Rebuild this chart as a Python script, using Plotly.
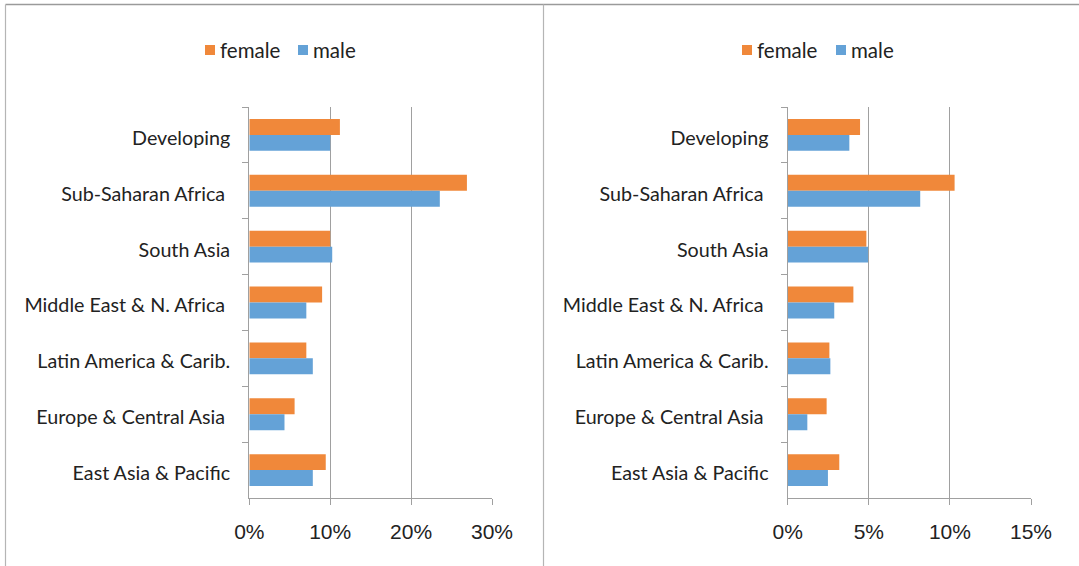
import plotly.graph_objects as go

regions = ["Developing", "Sub-Saharan Africa ", "South Asia", "Middle East & N. Africa ",
           "Latin America & Carib.", "Europe & Central Asia ", "East Asia & Pacific"]

left_female = [11.2, 26.9, 10.0, 9.0, 7.05, 5.6, 9.45]
left_male = [10.0, 23.55, 10.25, 7.05, 7.85, 4.35, 7.85]

right_female = [4.46, 10.29, 4.85, 4.05, 2.57, 2.40, 3.18]
right_male = [3.80, 8.17, 4.95, 2.87, 2.63, 1.21, 2.48]

left_ticks = [0, 10, 20, 30]
left_ticktext = ["0%", "10%", "20%", "30%"]
right_ticks = [0, 5, 10, 15]
right_ticktext = ["0%", "5%", "10%", "15%"]

series_names = ["female", "male"]

ORANGE = "#F0883A"
BLUE = "#64A2D7"
GRID = "#A0A0A0"
TXT = "#222222"
LABEL_FONT = "Lato, Carlito, Calibri, sans-serif"
W, H = 1079, 566


def px(x):
    return x / W


def py(y):
    return 1 - y / H


fig = go.Figure()

panels = [
    dict(xa="x", ya="y", fem=left_female, mal=left_male),
    dict(xa="x2", ya="y2", fem=right_female, mal=right_male),
]

for p in panels:
    fig.add_trace(go.Bar(y=regions, x=p["fem"], orientation="h", name=series_names[0],
                         marker=dict(color=ORANGE, line=dict(width=0)),
                         xaxis=p["xa"], yaxis=p["ya"], showlegend=False))
    fig.add_trace(go.Bar(y=regions, x=p["mal"], orientation="h", name=series_names[1],
                         marker=dict(color=BLUE, line=dict(width=0)),
                         xaxis=p["xa"], yaxis=p["ya"], showlegend=False))

ytop, ybot = 107, 498
axis_common_x = dict(showgrid=True, gridcolor=GRID, gridwidth=1.4, zeroline=False,
                     showline=True, linecolor=GRID, linewidth=1.4,
                     ticks="outside", ticklen=6, tickcolor=GRID, tickwidth=1.4,
                     tickfont=dict(family="Liberation Sans, Arial", size=21, color=TXT),
                     ticklabelstandoff=9, automargin=False, fixedrange=True)
axis_common_y = dict(showgrid=False, zeroline=False, showline=True, linecolor=GRID, linewidth=1.4,
                     ticks="outside", ticklen=6, tickcolor=GRID, tickwidth=1.4,
                     tickson="boundaries", autorange="reversed", type="category",
                     tickfont=dict(family=LABEL_FONT, size=19.7, color=TXT),
                     ticklabelstandoff=14, ticklabelshift=-3, automargin=False, fixedrange=True)

shapes = [
    dict(type="line", xref="paper", yref="paper", x0=px(5.5), x1=1, y0=py(4.5), y1=py(4.5),
         line=dict(color="#9A9A9A", width=1.5)),
    dict(type="line", xref="paper", yref="paper", x0=px(5.5), x1=px(5.5), y0=py(4.5), y1=0,
         line=dict(color="#B5B5B5", width=1.2)),
    dict(type="line", xref="paper", yref="paper", x0=px(543.5), x1=px(543.5), y0=py(4.5), y1=0,
         line=dict(color="#B5B5B5", width=1.2)),
]
annotations = []
legend_items = [
    [(205, ORANGE, series_names[0]), (298, BLUE, series_names[1])],
    [(742, ORANGE, series_names[0]), (836, BLUE, series_names[1])],
]
for items in legend_items:
    for sx, col, name in items:
        shapes.append(dict(type="rect", xref="paper", yref="paper",
                           x0=px(sx), x1=px(sx + 10), y0=py(55), y1=py(45),
                           fillcolor=col, line=dict(width=0)))
        annotations.append(dict(xref="paper", yref="paper", x=px(sx + 13), y=py(50),
                                xanchor="left", yanchor="middle", showarrow=False,
                                text=name, font=dict(family=LABEL_FONT, size=20.5, color=TXT)))

fig.update_layout(
    xaxis=dict(domain=[px(249.3), px(492)], range=[0, 30], tickvals=left_ticks,
               ticktext=left_ticktext, anchor="y", **axis_common_x),
    yaxis=dict(domain=[py(ybot), py(ytop)], anchor="x", **axis_common_y),
    xaxis2=dict(domain=[px(787.7), px(1031)], range=[0, 15], tickvals=right_ticks,
                ticktext=right_ticktext, anchor="y2", **axis_common_x),
    yaxis2=dict(domain=[py(ybot), py(ytop)], anchor="x2", **axis_common_y),
    barmode="group", bargap=0.43, bargroupgap=0,
    width=W, height=H, margin=dict(l=0, r=0, t=0, b=0, pad=0),
    paper_bgcolor="white", plot_bgcolor="white",
    showlegend=False,
    shapes=shapes,
    annotations=annotations,
)

fig.write_html("out.html", config={"displayModeBar": False},
               post_script="document.body.style.margin='0';document.body.style.padding='0';document.body.style.overflow='hidden';")
